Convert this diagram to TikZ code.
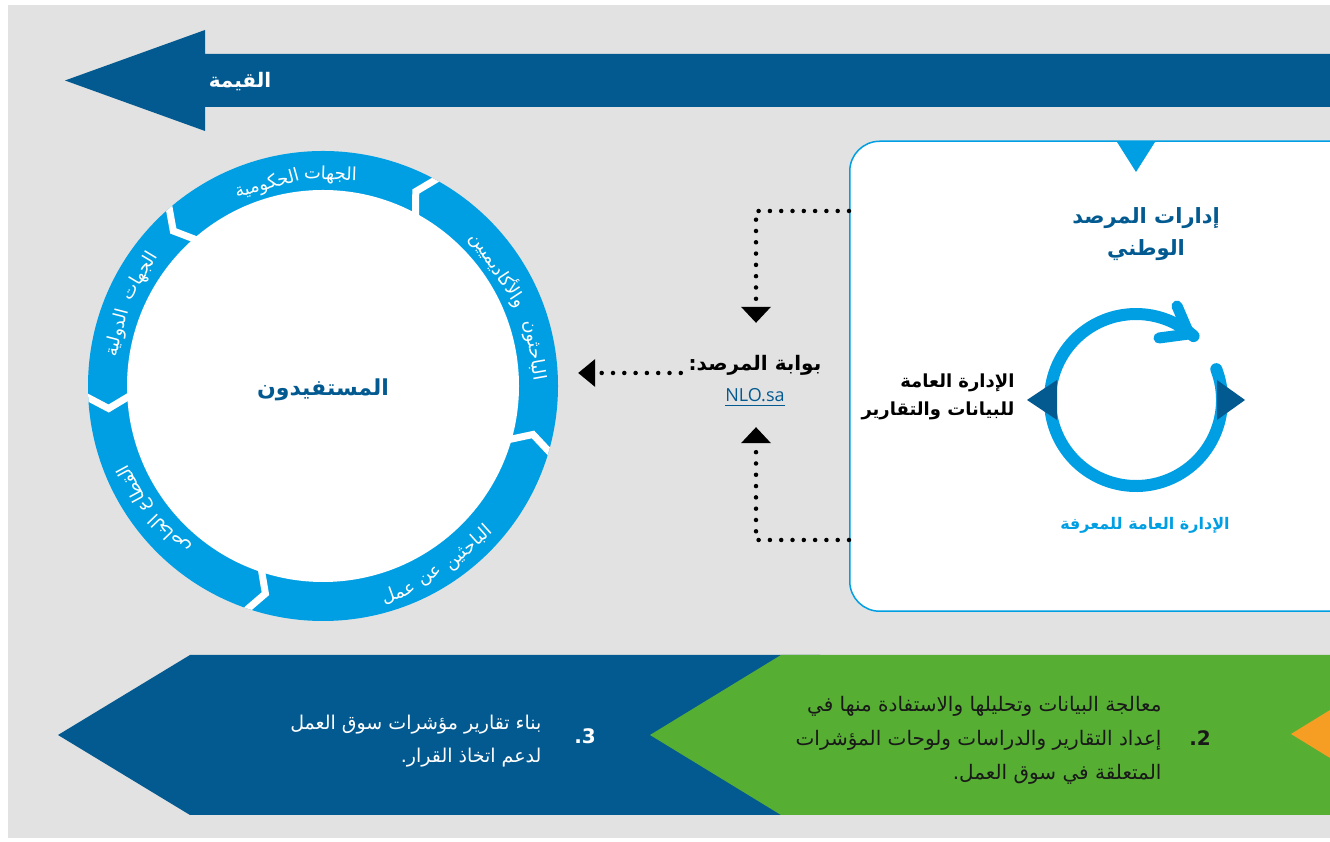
\documentclass[tikz,border=0pt]{standalone}
\usepackage{fontspec}
\setmainfont{DejaVu Sans}
\newfontfamily\arf[Script=Arabic]{DejaVu Sans}
\newfontfamily\latf{Open Sans}
\TeXXeTstate=1
\usetikzlibrary{arrows.meta,calc}
\definecolor{dblue}{HTML}{035A91}
\definecolor{lblue}{HTML}{009FE3}
\definecolor{bggray}{HTML}{E2E2E2}
\definecolor{lgreen}{HTML}{56AE33}
\definecolor{orng}{HTML}{F59E23}
\newcommand{\rtltext}[1]{\beginR #1\endR}
\tikzset{
  dots/.style={line width=4.5pt, line cap=round, dash pattern=on 0pt off 11.3pt},
  vtip/.style={-{Triangle[width=30pt,length=16pt,line width=0pt]}},
  htip/.style={-{Triangle[width=28pt,length=17pt,line width=0pt]}},
  arcw/.style={font=\arf\fontsize{18}{20}\selectfont, text=white, inner sep=0pt},
}
\begin{document}
\begin{tikzpicture}[x=1pt,y=1pt]
\clip (0,0) rectangle (1330,842);
\fill[white] (0,0) rectangle (1330,842);
\fill[bggray] (8,4) rectangle (1330,837);

% top value arrow
\fill[dblue] (1330,788) -- (205,788) -- (205,812) -- (65,761.5) -- (205,711) -- (205,735) -- (1330,735) -- cycle;
\node[font=\arf\bfseries\fontsize{20}{24}\selectfont, text=white] (value) at (240,760) {\rtltext{القيمة}};

% right box
\node[draw=lblue, fill=white, rounded corners=30pt, line width=1.5pt, minimum width=531pt, minimum height=470pt, anchor=south west, inner sep=0pt] (box) at (849,230) {};
\fill[lblue] (1117,700) -- (1155,700) -- (1136,670) -- cycle;
\node[font=\arf\bfseries\fontsize{21}{32}\selectfont, text=dblue, align=center] (title) at (1146,608) {\rtltext{إدارات المرصد}\\\rtltext{الوطني}};

% cycle ring
\draw[lblue, line width=12pt, line cap=round] (1136,442) ++(21:86) arc[start angle=21, end angle=-312, radius=86];
\draw[lblue, line width=11pt, line cap=round, line join=round] (1177,536) -- (1189,508) -- (1159,504);
\fill[dblue] (1027,442) -- (1057,462) -- (1057,422) -- cycle;
\fill[dblue] (1245,442) -- (1217,462) -- (1217,422) -- cycle;
\node[font=\arf\bfseries\fontsize{18}{28}\selectfont, align=right, anchor=east] (dataadm) at (1018,445) {\rtltext{الإدارة العامة}\\\rtltext{للبيانات والتقارير}};
\node[font=\arf\bfseries\fontsize{16}{20}\selectfont, text=lblue] (knowadm) at (1145,317) {\rtltext{الإدارة العامة للمعرفة}};

% beneficiaries circle
\node[circle, fill=lblue, minimum size=470pt, inner sep=0pt] (benef) at (323,456) {};
\fill[white] (benef.center) circle (196);
\begin{scope}
\clip (benef.center) circle (235);
\foreach \a in {60,-17.5,250,181.5,129.5}{
  \draw[white, line width=7pt] ([shift={(\a:245)}]benef.center) -- ([shift={(\a+4.5:215.5)}]benef.center) -- ([shift={(\a:185)}]benef.center);
}
\end{scope}
\node[font=\arf\bfseries\fontsize{22}{26}\selectfont, text=dblue] (benefT) at (323,452) {\rtltext{المستفيدون}};
\node[arcw, rotate=-2]    (w1) at ([shift={(88:211)}]benef.center) {\rtltext{الجهات}};
\node[arcw, rotate=15.5]  (w2) at ([shift={(105.5:209)}]benef.center) {\rtltext{الحكومية}};
\node[arcw, rotate=-80]   (w3) at ([shift={(9.5:214)}]benef.center) {\rtltext{الباحثون}};
\node[arcw, rotate=-56.5] (w4) at ([shift={(33.5:211)}]benef.center) {\rtltext{والأكاديميين}};
\node[arcw, rotate=42]    (w5) at ([shift={(-48:218)}]benef.center) {\rtltext{الباحثين}};
\node[arcw, rotate=29.5]  (w6) at ([shift={(-60.5:219)}]benef.center) {\rtltext{عن}};
\node[arcw, rotate=20]    (w7) at ([shift={(-70:220)}]benef.center) {\rtltext{عمل}};
\node[arcw, rotate=59]    (w8) at ([shift={(149:213)}]benef.center) {\rtltext{الجهات}};
\node[arcw, rotate=75.5]  (w9) at ([shift={(165.5:212)}]benef.center) {\rtltext{الدولية}};
\node[arcw, rotate=118.5] (w10) at ([shift={(208.5:214)}]benef.center) {\rtltext{القطاع}};
\node[arcw, rotate=134]   (w11) at ([shift={(224:213)}]benef.center) {\rtltext{الخاص}};

% portal
\node[minimum width=150pt, minimum height=104pt, inner sep=0pt] (portal) at (756,467) {};
\node[font=\arf\bfseries\fontsize{20}{24}\selectfont] (portalT) at (755,477) {\rtltext{بوابة المرصد:}};
\node[font=\latf\fontsize{18}{22}\selectfont, text=dblue, inner xsep=0pt] (nlo) at (755,447) {NLO.sa};
\draw[dblue, line width=1.3pt] ([yshift=-4pt]nlo.base west) -- ([yshift=-4pt]nlo.base east);

% connectors
\coordinate (up) at (756,631);
\coordinate (dn) at (756,302);
\coordinate (lf) at (681,469);
\draw[dots, vtip] (box.west |- up) -| (portal.north);
\draw[dots, vtip] (box.west |- dn) -| (portal.south);
\draw[dots, htip] (portal.west |- lf) -- ([xshift=20pt]benef.east |- lf);

% bottom process strip
\fill[dblue] (58,107) -- (190,187) -- (820,187) -- (820,27) -- (190,27) -- cycle;
\fill[lgreen] (650,107) -- (781,187) -- (1330,187) -- (1330,27) -- (781,27) -- cycle;
\fill[orng] (1291,108) -- (1330,132) -- (1330,84) -- cycle;
\node[font=\bfseries\fontsize{20}{24}\selectfont, text=white] (n3) at (585,106) {.3};
\node[font=\arf\fontsize{19}{33}\selectfont, text=white, align=right, anchor=east] (t3) at (545,101) {\rtltext{بناء تقارير مؤشرات سوق العمل}\\\rtltext{لدعم اتخاذ القرار.}};
\node[font=\bfseries\fontsize{20}{24}\selectfont, text=black!90] (n2) at (1200,104) {.2};
\node[font=\arf\fontsize{20}{34}\selectfont, text=black!90, align=right, anchor=east] (t2) at (1165,102) {\rtltext{معالجة البيانات وتحليلها والاستفادة منها في}\\\rtltext{إعداد التقارير والدراسات ولوحات المؤشرات}\\\rtltext{المتعلقة في سوق العمل.}};
\end{tikzpicture}
\end{document}
